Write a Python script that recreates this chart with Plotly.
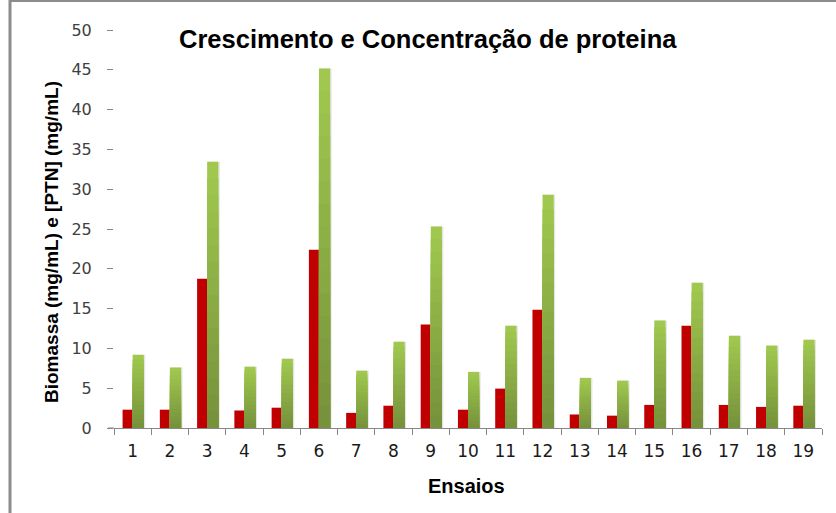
import plotly.graph_objects as go

ensaios = [str(i) for i in range(1, 20)]
biomassa = [2.3, 2.3, 18.75, 2.2, 2.55, 22.4, 1.9, 2.8, 13.0, 2.3, 4.95, 14.85, 1.7, 1.55, 2.9, 12.85, 2.9, 2.65, 2.8]
ptn = [9.2, 7.6, 33.45, 7.7, 8.7, 45.15, 7.2, 10.85, 25.3, 7.05, 12.85, 29.3, 6.3, 5.95, 13.5, 18.25, 11.6, 10.35, 11.1]
y_ticks = list(range(0, 55, 5))

W, H = 836, 513
L, R, T, B = 114, 14, 30, 85
PW, PH = W - L - R, H - T - B

def px(x):
    return (x - L) / PW

def py(y):
    return (H - B - y) / PH

def lerp(c1, c2, t):
    return "rgb(%d,%d,%d)" % tuple(round(a + (b - a) * t) for a, b in zip(c1, c2))

light = (160, 200, 78)
dark = (118, 146, 60)
N = 16

fig = go.Figure()

# soft shadow behind green bars
fig.add_trace(go.Bar(x=ensaios, y=ptn, offset=0.02, width=0.32,
                     marker=dict(color="rgba(0,0,0,0.10)", line=dict(width=0)),
                     hoverinfo="skip", showlegend=False))

fig.add_trace(go.Bar(x=ensaios, y=biomassa, offset=-0.27, width=0.27, name="Biomassa",
                     marker=dict(color="#C00000", line=dict(width=0)), showlegend=False))

for k in range(N):
    frac = 1 - k / N
    fig.add_trace(go.Bar(x=ensaios, y=[v * frac for v in ptn], offset=0.0, width=0.30,
                         marker=dict(color=lerp(light, dark, k / (N - 1)), line=dict(width=0)),
                         hoverinfo="skip" if k else None, name="PTN", showlegend=False))

fig.update_layout(
    width=W, height=H,
    margin=dict(l=L, r=R, t=T, b=B),
    paper_bgcolor="white", plot_bgcolor="white",
    barmode="overlay",
    showlegend=False,
    xaxis=dict(type="category", categoryorder="array", categoryarray=ensaios,
               showgrid=False, zeroline=False, showline=True, linecolor="#868686", linewidth=1,
               ticks="outside", tickson="boundaries", ticklen=6, tickcolor="#868686", tickwidth=1,
               tickfont=dict(family="DejaVu Sans", size=17, color="#1a1a1a"),
               ticklabelstandoff=8),
    yaxis=dict(range=[0, 50], tickvals=y_ticks, showgrid=False, zeroline=False, showline=False,
               ticks="outside", ticklen=6, tickcolor="#868686", tickwidth=1,
               tickfont=dict(family="DejaVu Sans", size=16, color="#404040"),
               ticklabelstandoff=12),
    annotations=[
        dict(text="<b>Crescimento e Concentração de proteina</b>", xref="paper", yref="paper",
             x=px(428), y=py(39), xanchor="center", yanchor="middle", showarrow=False,
             font=dict(family="Liberation Sans", size=25.5, color="#000000")),
        dict(text="<b>Biomassa (mg/mL) e [PTN] (mg/mL)</b>", xref="paper", yref="paper",
             x=px(51), y=py(242), xanchor="center", yanchor="middle", showarrow=False, textangle=-90,
             font=dict(family="Liberation Sans", size=19, color="#000000")),
        dict(text="<b>Ensaios</b>", xref="paper", yref="paper",
             x=px(466), y=py(486), xanchor="center", yanchor="middle", showarrow=False,
             font=dict(family="Liberation Sans", size=20, color="#000000")),
    ],
    shapes=[
        dict(type="line", xref="paper", yref="paper", x0=px(10), x1=px(10), y0=py(0), y1=py(H),
             line=dict(color="#8c8c8c", width=3)),
        dict(type="line", xref="paper", yref="paper", x0=px(9), x1=px(W), y0=py(1), y1=py(1),
             line=dict(color="#8c8c8c", width=2)),
        dict(type="line", xref="paper", yref="paper", x0=px(108), x1=px(114), y0=0, y1=0,
             line=dict(color="#868686", width=1)),
    ],
)

fig.write_html("out.html", config={"displayModeBar": False},
               post_script="document.body.style.margin='0';document.body.style.padding='0';")
